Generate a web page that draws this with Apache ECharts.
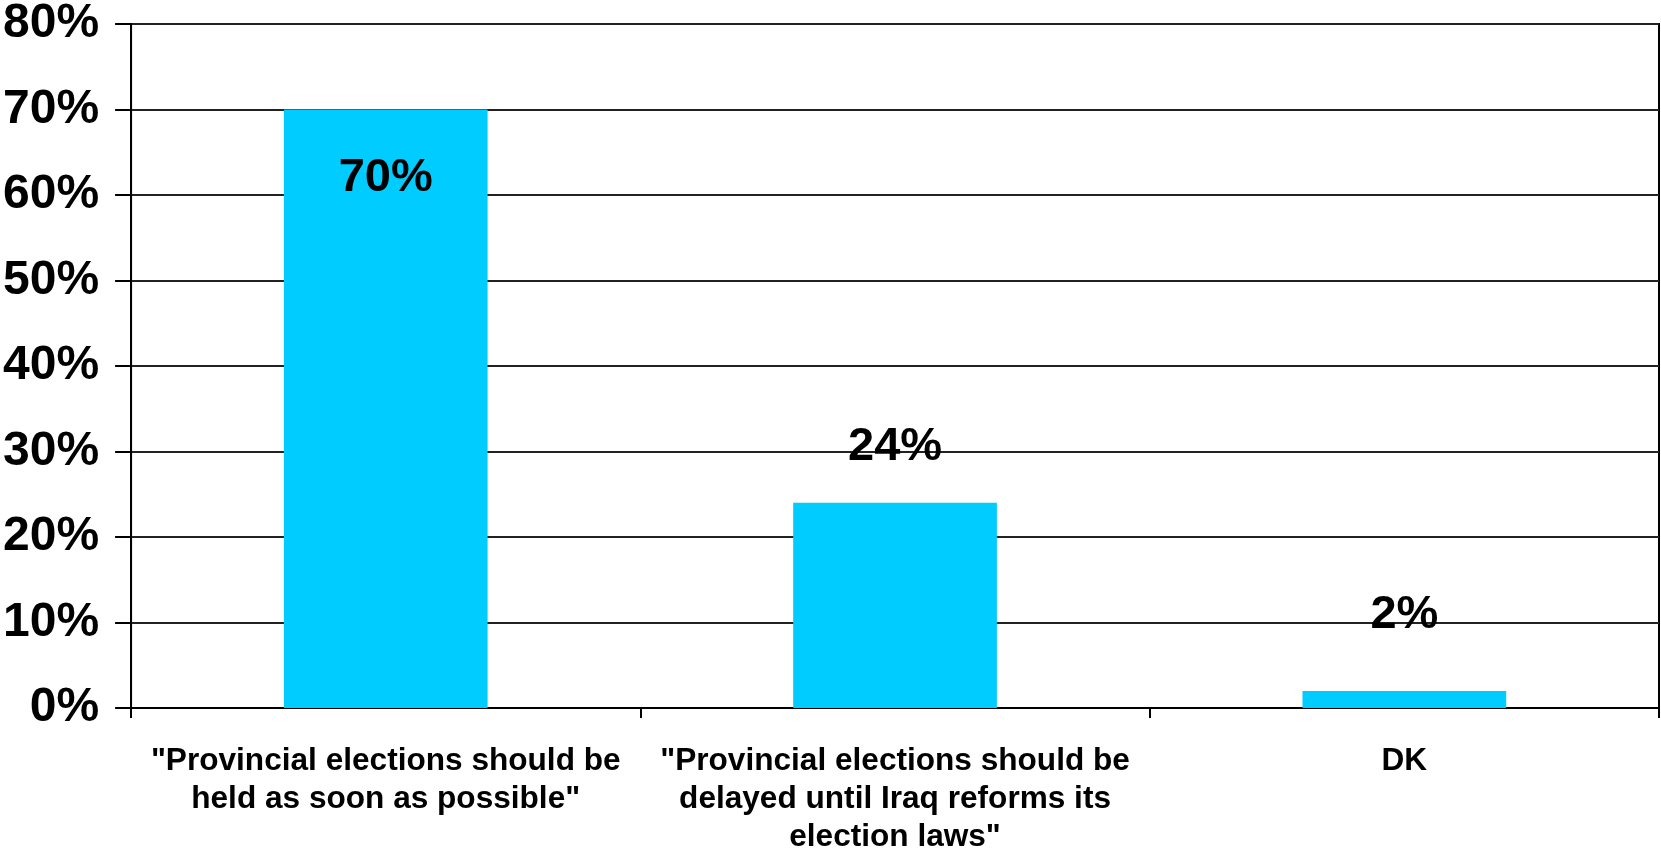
<!DOCTYPE html>
<html>
<head>
<meta charset="utf-8">
<script src="https://cdn.jsdelivr.net/npm/echarts@6/dist/echarts.min.js"></script>
<style>
html,body{margin:0;padding:0;background:#fff;}
#c{width:1661px;height:858px;}
</style>
</head>
<body>
<div id="c"></div>
<script>
const categories = [
  '"Provincial elections should be\nheld as soon as possible"',
  '"Provincial elections should be\ndelayed until Iraq reforms its\nelection laws"',
  'DK'
];
const values = [70, 24, 2];
const yTicks = { min: 0, max: 80, interval: 10 };

const labelPlacement = [
  { position: 'insideTop', distance: 45 },
  { position: 'top', distance: 32 },
  { position: 'top', distance: 52 }
];

const chart = echarts.init(document.getElementById('c'));
const font = '"Liberation Sans", Arial, sans-serif';
chart.setOption({
  animation: false,
  backgroundColor: '#fff',
  grid: {
    left: 131, right: 2, top: 22, bottom: 150,
    show: true, borderColor: '#000', borderWidth: 2, containLabel: false
  },
  xAxis: {
    type: 'category',
    data: categories,
    axisLine: { show: true, lineStyle: { color: '#000', width: 2 } },
    axisTick: { show: true, length: 10, lineStyle: { color: '#000', width: 2 } },
    axisLabel: {
      interval: 0, margin: 34, color: '#000', fontFamily: font,
      fontWeight: 'bold', fontSize: 31.6, lineHeight: 38, align: 'center'
    },
    splitLine: { show: false }
  },
  yAxis: {
    type: 'value',
    min: yTicks.min, max: yTicks.max, interval: yTicks.interval,
    axisLine: { show: true, lineStyle: { color: '#000', width: 2 } },
    axisTick: { show: true, length: 16, lineStyle: { color: '#000', width: 2 } },
    axisLabel: {
      formatter: '{value}%', margin: 32, color: '#000', fontFamily: font,
      fontWeight: 'bold', fontSize: 48
    },
    splitLine: { show: true, lineStyle: { color: '#222', width: 2 } }
  },
  series: [{
    type: 'bar',
    barWidth: '40%',
    itemStyle: { color: '#00CCFF' },
    data: values.map((v, i) => ({
      value: v,
      label: {
        show: true,
        position: labelPlacement[i].position,
        distance: labelPlacement[i].distance,
        formatter: '{c}%',
        color: '#000', fontFamily: font, fontWeight: 'bold', fontSize: 47
      }
    }))
  }]
});
</script>
</body>
</html>
